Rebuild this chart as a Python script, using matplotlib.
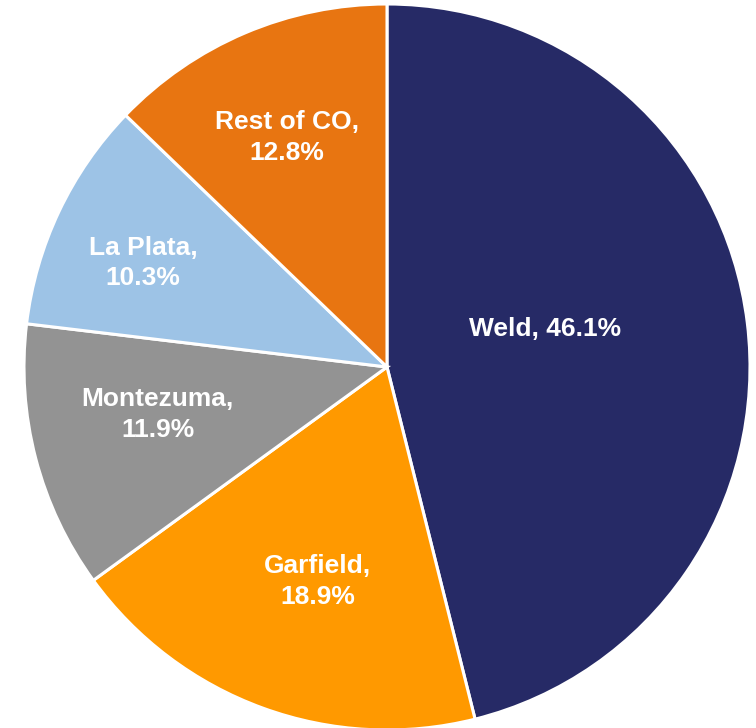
import numpy as np
import matplotlib
matplotlib.use("Agg")
import matplotlib.pyplot as plt

# share of total by county
counties = ["Weld", "Garfield", "Montezuma", "La Plata", "Rest of CO"]
shares = [46.1, 18.9, 11.9, 10.3, 12.8]
colors = ["#262A66", "#FF9900", "#939393", "#9DC3E6", "#E87511"]
# label placement: fraction of radius, angle nudge (deg)
label_dist = [0.448, 0.62, 0.645, 0.73, 0.69]
label_nudge = [6.5, 2.1, -2.8, 2.3, 0.5]

plt.rcParams['font.family'] = ['Liberation Sans', 'DejaVu Sans']

W, H = 756, 728
fig = plt.figure(figsize=(W / 100, H / 100), dpi=100)
ax = fig.add_axes([0, 0, 1, 1])

cx, cy, r = 387, H - 367, 363
wedges, _ = ax.pie(shares, colors=colors, startangle=90, counterclock=False,
                   center=(cx, cy), radius=r, frame=True,
                   wedgeprops=dict(edgecolor='white', linewidth=2.2))
ax.set_xlim(0, W)
ax.set_ylim(0, H)
ax.set_aspect('equal')
ax.axis('off')

for w, name, val, d, nd in zip(wedges, counties, shares, label_dist, label_nudge):
    ang = np.deg2rad((w.theta1 + w.theta2) / 2 + nd)
    x = cx + d * r * np.cos(ang)
    y = cy + d * r * np.sin(ang)
    if name == "Weld":
        txt = f"{name}, {val:.1f}%"
    else:
        txt = f"{name},\n{val:.1f}%"
    ax.text(x, y, txt, ha='center', va='center', color='white',
            fontsize=19, fontweight='bold', linespacing=1.35)

fig.savefig("out.png", dpi=100)
